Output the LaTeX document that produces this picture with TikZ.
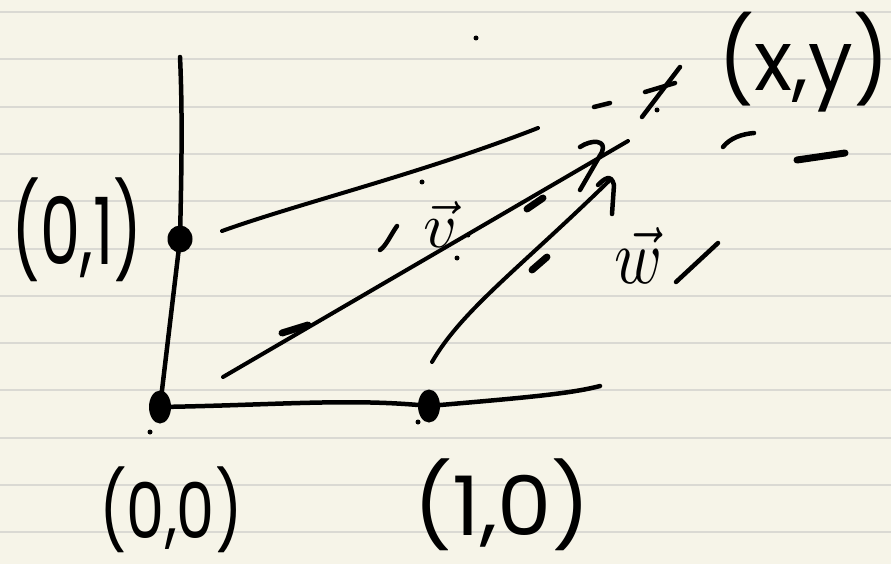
\documentclass[tikz,border=0pt]{standalone}
\usepackage{fontspec}
\setmainfont{Poppins}
\usetikzlibrary{shapes.geometric}
\definecolor{paper}{HTML}{F6F4E8}
\definecolor{rule}{HTML}{DAD9D3}
\tikzset{
  ink/.style={line width=4.5pt, line cap=round, line join=round, black},
  thin ink/.style={line width=4pt, line cap=round, line join=round, black},
  thick tick/.style={line width=7pt, line cap=round, black},
  dotmark/.style={ellipse, fill=black, inner sep=0pt},
  hand/.style={inner sep=0pt, black},
}
\begin{document}
\begin{tikzpicture}[x=1pt, y=-1pt]
  % paper
  \fill[paper] (0,0) rectangle (891,564);
  \useasboundingbox (0,0) rectangle (891,564);
  \foreach \k in {0,...,11} {
    \draw[rule, line width=2pt] (0,{12+47.3*\k}) -- (891,{12+47.3*\k});
  }

  % points
  \node[dotmark, minimum width=25pt, minimum height=27pt] (p01) at (180,239) {};
  \node[dotmark, minimum width=22pt, minimum height=33pt] (o) at (160,407) {};
  \node[dotmark, minimum width=22pt, minimum height=33pt] (p10) at (429,406) {};

  \coordinate (ytop) at (180,57);
  \coordinate (xend) at (600,386);
  \coordinate (la) at (222,231);
  \coordinate (lb) at (538,128);
  \coordinate (va) at (223,377);
  \coordinate (vb) at (628,141);
  \coordinate (wa) at (432,362);
  \coordinate (wb) at (611,179);

  % axes
  \draw[ink] (ytop) .. controls (183,120) and (181,190) .. (p01.center) -- (o.center);
  \draw[ink] (o.center) .. controls (280,405) and (350,398) .. (p10.center)
             .. controls (520,398) and (570,394) .. (xend);

  % line through (0,1)
  \draw[thin ink] (la) .. controls (300,203) and (420,174) .. (lb);

  % vector v
  \draw[thin ink] (va) -- (vb);
  \draw[ink] (580,147) .. controls (592,139) and (607,140) .. (602,152) -- (580,190);
  \draw[thick tick] (282,333) -- (308,325);
  \draw[thick tick] (527,209) -- (543,198);

  % vector w
  \draw[thin ink] (wa) .. controls (462,310) and (520,268) .. (wb);
  \draw[ink] (598,185) .. controls (604,179) and (611,173) .. (614,185) -- (612,214);
  \draw[thick tick] (532,270) -- (547,257);

  % point (x,y) mark
  \draw[ink] (642,117) -- (680,67);
  \draw[ink] (645,92) -- (675,83);
  \fill (657,110) circle (2.5pt);
  \draw[ink] (594,107) -- (610,103);
  \draw[ink] (723,147) .. controls (730,138) and (742,134) .. (754,133);
  \draw[thick tick] (797,160) -- (845,153);

  % stray marks
  \fill (476,38) circle (2.5pt);
  \fill (422,182) circle (2.5pt);
  \fill (457,258) circle (2.5pt);
  \fill (468,235) circle (2.5pt);
  \draw[ink] (397,226) .. controls (390,236) and (386,246) .. (380,250);
  \draw[ink] (676,282) -- (718,243);
  \fill (150,432) circle (2.5pt);
  \fill (418,422) circle (2.5pt);

  % labels
  \node[hand] (t01) at (77,230) {\resizebox*{131pt}{104pt}{(0,1)}};
  \node[hand] (t00) at (171,510) {\resizebox*{143pt}{86pt}{(0,0)}};
  \node[hand] (t10) at (502,505) {\resizebox*{177pt}{92pt}{(1,0)}};
  \node[hand] (txy) at (804,62) {\resizebox*{170pt}{100pt}{(x,y)}};
  \node[hand] (tv) at (440,224) {\resizebox*{34pt}{46pt}{$\vec{v}$}};
  \node[hand] (tw) at (638,255) {\resizebox*{48pt}{56pt}{$\vec{w}$}};
\end{tikzpicture}
\end{document}
